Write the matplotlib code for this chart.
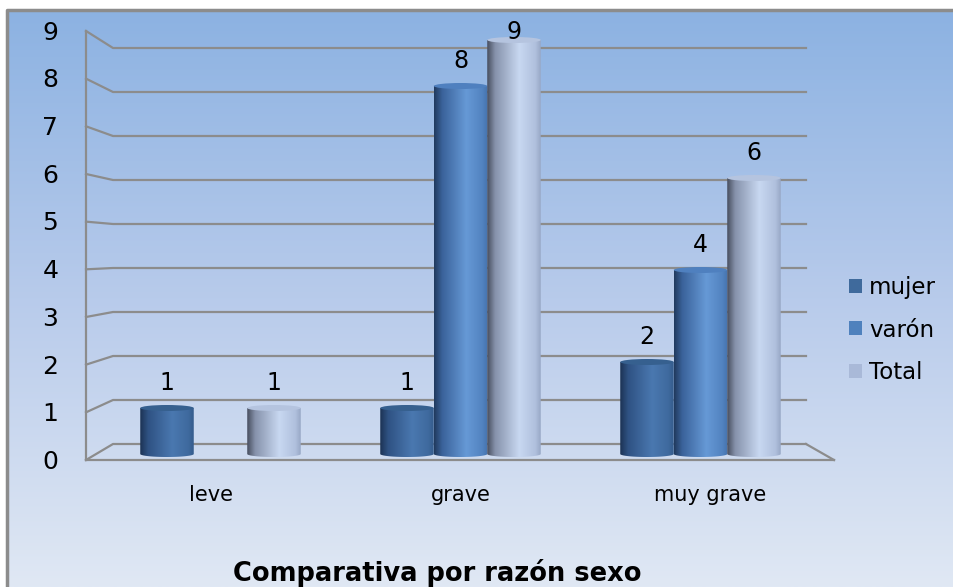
import numpy as np
import matplotlib
matplotlib.use('Agg')
import matplotlib.pyplot as plt
from matplotlib.colors import LinearSegmentedColormap
from matplotlib.patches import Ellipse, Patch, PathPatch
from matplotlib.path import Path

# datos
categorias = ['leve', 'grave', 'muy grave']
series = ['mujer', 'varón', 'Total']
mujer = [1, 1, 2]
varon = [0, 8, 4]   # leve sin varones
total = [1, 9, 6]
yticks = list(range(0, 10))

# colores de los cilindros: borde izq, medio, brillo, borde der
col_mujer = ['#1c3354', '#2f5283', '#4a78b0', '#3f6a9e', '#355c8c']
col_varon = ['#213a5e', '#3a629a', '#6699d6', '#5283c0', '#4573ad']
col_total = ['#474e5e', '#8692ab', '#c8d8f1', '#b0c0dd', '#98a8c6']
tapas = ['#36608f', '#4f80bf', '#b5c4df']
leyenda = ['#3f6a9c', '#4f81bd', '#a9b9d8']

W, H = 954, 587
fig = plt.figure(figsize=(W / 100, H / 100), dpi=100)

# fondo degradado + borde
bg = fig.add_axes([0, 0, 1, 1])
grad = LinearSegmentedColormap.from_list('bg', ['#8cb2e2', '#b8cbeb', '#e0e8f4'])
bg.imshow(np.linspace(0, 1, 256).reshape(-1, 1), cmap=grad,
          extent=[7.5, W, H, 10], aspect='auto')
bg.plot([7.5, 7.5, W], [H, 10, 10], color='#8c8c8c', lw=2.5)
bg.set_xlim(0, W)
bg.set_ylim(H, 0)
bg.axis('off')

# ejes principales (pixeles del area de trazado)
x0, x1 = 86, 834
ytop, ybot = 31, 460
ax = fig.add_axes([x0 / W, 1 - ybot / H, (x1 - x0) / W, (ybot - ytop) / H])
ax.patch.set_alpha(0)
px_u = 46.0       # pixeles por unidad en las barras
base = 454        # base de las barras
xc0, paso = 220.5, 240.0
xlim = ((x0 - xc0) / paso, (x1 - xc0) / paso)
ylim = ((base - ybot) / px_u, (base - ytop) / px_u)


def frente(v):
    return (47.67 * v - (ybot - base)) / px_u


def fondo(v):
    return (44.0 * v + (base - 444)) / px_u


# marco 3D (pared del fondo y suelo)
xfi = xlim[0]
xfd = xlim[1]
xbi = (113 - xc0) / paso
xbd = (806 - xc0) / paso
gris = '#8c8c8c'
for v in yticks:
    ax.plot([xfi, xbi, xbd], [frente(v), fondo(v), fondo(v)], color=gris, lw=1.6,
            clip_on=False, zorder=1)
    ax.text(-0.037, frente(v) - 0.04, str(v), transform=ax.get_yaxis_transform(),
            ha='right', va='center', fontsize=18)
ax.plot([xfi, xfi], [frente(0), frente(9)], color=gris, lw=1.6, clip_on=False, zorder=1)
ax.plot([xfi, xfd], [frente(0), frente(0)], color=gris, lw=1.6, clip_on=False, zorder=1)
ax.plot([xbd, xfd], [fondo(0), frente(0)], color=gris, lw=1.6, clip_on=False, zorder=1)

w = 53.5 / paso
hh = 3.0 / px_u


def cilindro(xc, v, cols, tapa, z):
    cmap = LinearSegmentedColormap.from_list('c', list(zip([0, 0.15, 0.6, 0.9, 1], cols)))
    t = np.linspace(np.pi, 2 * np.pi, 40)
    verts = list(zip(xc + w / 2 * np.cos(t), hh * np.sin(t)))
    verts += [(xc + w / 2, v), (xc - w / 2, v), verts[0]]
    codes = [Path.MOVETO] + [Path.LINETO] * (len(verts) - 2) + [Path.CLOSEPOLY]
    clip = PathPatch(Path(verts, codes), transform=ax.transData,
                     facecolor='none', edgecolor='none')
    ax.add_patch(clip)
    im = ax.imshow(np.linspace(0, 1, 200).reshape(1, -1), cmap=cmap,
                   extent=[xc - w / 2, xc + w / 2, -hh, v], aspect='auto', zorder=z)
    im.set_clip_path(clip)
    ax.add_patch(Ellipse((xc, v), w, 2 * hh, facecolor=tapa, edgecolor='none',
                         zorder=z + 0.1))


for k, (vals, cols) in enumerate(zip([mujer, varon, total], [col_mujer, col_varon, col_total])):
    for i, v in enumerate(vals):
        if v == 0:
            continue
        xc = i + (k - 1) * w
        cilindro(xc, v, cols, tapas[k], 2 + k)
        ax.text(xc, min(v + 0.55, 9.17), str(v), ha='center', va='center',
                fontsize=17, zorder=10)

# etiquetas de categoria
for i, c in enumerate(categorias):
    ax.text(1 + (i - 1) * 1.04, -0.082, c, transform=ax.get_xaxis_transform(),
            ha='center', va='center', fontsize=15)

ax.set_xlim(*xlim)
ax.set_ylim(*ylim)
ax.axis('off')

handles = [Patch(facecolor=c, edgecolor='none') for c in leyenda]
fig.legend(handles, series, loc='center left', bbox_to_anchor=(849 / W, 1 - 330 / H),
           frameon=False, fontsize=16.5, handlelength=0.57, handleheight=0.57,
           handletextpad=0.3, labelspacing=0.85, borderpad=0, borderaxespad=0)

fig.text(437 / W, 1 - 573 / H, 'Comparativa por razón sexo', ha='center', va='center',
         fontsize=18.5, fontweight='bold')

fig.savefig('out.png', dpi=100)
